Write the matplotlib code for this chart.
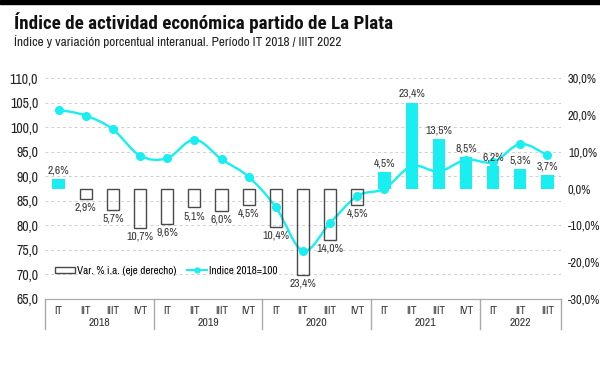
import matplotlib
matplotlib.use("Agg")
import matplotlib.pyplot as plt
from matplotlib.path import Path
from matplotlib.patches import PathPatch, Rectangle
from matplotlib.lines import Line2D
import numpy as np

plt.rcParams['font.family'] = ['Archivo Narrow', 'DejaVu Sans']

quarters = ["IT", "IIT", "IIIT", "IVT"] * 4 + ["IT", "IIT", "IIIT"]
years = ["2018", "2019", "2020", "2021", "2022"]
indice = [103.6, 102.4, 99.6, 94.2, 93.7, 97.5, 93.5, 89.9, 83.7, 74.8,
          80.5, 86.0, 87.5, 92.1, 91.0, 93.4, 92.9, 96.6, 94.3]
variacion = [2.6, -2.9, -5.7, -10.7, -9.6, -5.1, -6.0, -4.5, -10.4, -23.4,
             -14.0, -4.5, 4.5, 23.4, 13.5, 8.5, 6.2, 5.3, 3.7]

cyan = "#19EEF0"
edge = "#4a4a4a"

fig = plt.figure(figsize=(6.0, 3.65), dpi=100)
ax = fig.add_axes([0.075, 0.181, 0.86, 0.6045])
ax2 = ax.twinx()

x = np.arange(len(indice))

# smooth line (Catmull-Rom -> bezier)
pts = np.column_stack([x, indice]).astype(float)
verts = [pts[0]]
codes = [Path.MOVETO]
for i in range(len(pts) - 1):
    p0 = pts[i - 1] if i > 0 else pts[i]
    p1, p2 = pts[i], pts[i + 1]
    p3 = pts[i + 2] if i + 2 < len(pts) else pts[i + 1]
    verts += [p1 + (p2 - p0) / 6, p2 - (p3 - p1) / 6, p2]
    codes += [Path.CURVE4] * 3
ax.add_patch(PathPatch(Path(verts, codes), fill=False, edgecolor=cyan, lw=1.7, zorder=3))
ax.plot(x, indice, 'o', color=cyan, ms=5.5, zorder=4)

ax.set_ylim(65, 110)
ax.set_xlim(-0.5, len(indice) - 0.5)
ax.set_yticks(np.arange(65, 111, 5))
ax.set_yticklabels([f"{v:.1f}".replace(".", ",") for v in np.arange(65, 111, 5)])
ax.grid(axis='y', color="#cfcfcf", ls=(0, (3, 3)), lw=0.7)
ax.set_axisbelow(True)

for v, val in zip(x, variacion):
    if val >= 0:
        ax2.bar(v, val, width=0.45, color=cyan, zorder=3)
        ax2.text(v, val + 1.0, f"{val:.1f}%".replace(".", ","), ha='center', va='bottom', fontsize=8.3, color="#333333")
    else:
        ax2.bar(v, val, width=0.45, fill=False, edgecolor=edge, lw=1.0, zorder=3)
        ax2.text(v, val - 1.0, f"{abs(val):.1f}%".replace(".", ","), ha='center', va='top', fontsize=8.3, color="#333333")
ax2.set_ylim(-30, 30)
ax2.set_yticks(np.arange(-30, 31, 10))
ax2.set_yticklabels([f"{v:.1f}%".replace(".", ",") for v in np.arange(-30, 31, 10)])

for a in (ax, ax2):
    for s in ("top", "left", "right"):
        a.spines[s].set_visible(False)
    a.spines["bottom"].set_color("#aaaaaa")
    a.tick_params(axis='y', length=0, colors="#222222")
ax.tick_params(axis='y', pad=5, labelsize=10)
ax2.tick_params(axis='y', pad=5, labelsize=9)

ax.set_xticks(x)
ax.set_xticklabels(quarters, fontsize=8, color="#333333")
ax.tick_params(axis='x', length=0, pad=5)

# year groups
bounds = [-0.5, 3.5, 7.5, 11.5, 15.5, 18.5]
for b in bounds:
    ax.add_line(Line2D([b, b], [0, -0.135], transform=ax.get_xaxis_transform(), color="#aaaaaa", lw=1, clip_on=False))
for i, yr in enumerate(years):
    ax.text((bounds[i] + bounds[i + 1]) / 2, -0.11, yr, transform=ax.get_xaxis_transform(),
            ha='center', va='center', fontsize=8.5, color="#333333")

handles = [Rectangle((0, 0), 1, 1, fill=False, edgecolor=edge, lw=1.0),
           Line2D([], [], color=cyan, marker='o', ms=3.5, lw=1.5)]
ax.legend(handles, ["Var. % i.a. (eje derecho)", "Indice 2018=100"], loc='lower left',
          bbox_to_anchor=(0.0, 0.06), ncol=2, frameon=False, fontsize=8.0, handlelength=1.8,
          handleheight=0.5, handletextpad=0.15, columnspacing=1.0)

fig.patches.append(Rectangle((0, 0.99), 1, 0.01, transform=fig.transFigure, color="black"))
fig.text(0.023, 0.938, "Índice de actividad económica partido de La Plata", fontsize=13.7,
         fontweight='bold', va='center', color="#111111", family=['Roboto Condensed', 'Archivo Narrow'])
fig.text(0.023, 0.887, "Índice y variación porcentual interanual. Período IT 2018 / IIIT 2022",
         fontsize=9.6, va='center', color="#222222")

fig.savefig("out.png", dpi=100)
